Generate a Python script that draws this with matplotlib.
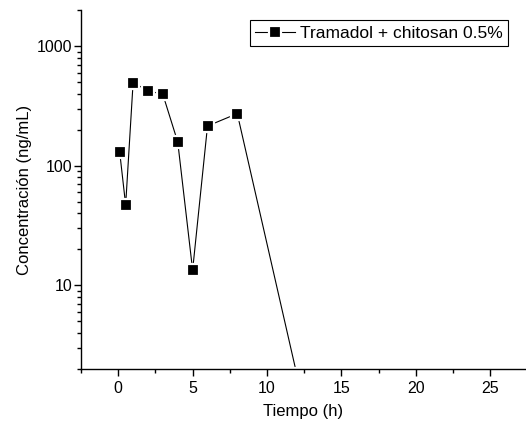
import matplotlib
matplotlib.use("Agg")
import matplotlib.pyplot as plt
from matplotlib.ticker import FixedLocator, LogLocator, NullFormatter, MultipleLocator

plt.rcParams['font.family'] = ['Liberation Sans', 'DejaVu Sans']

# tiempo (h) y concentracion (ng/mL)
tiempo = [0.1, 0.5, 1, 2, 3, 4, 5, 6, 8, 12]
conc = [130, 47, 495, 425, 395, 158, 13.4, 215, 273, 1.8]
serie = "Tramadol + chitosan 0.5%"

fig = plt.figure(figsize=(5.26, 4.25), dpi=100)
ax = fig.add_axes([0.154, 0.132, 0.846, 0.844])

ax.plot(tiempo, conc, color='black', lw=0.8, marker='s', ms=8,
        mfc='black', mec='white', mew=1.6, label=serie)

ax.set_yscale('log')
ax.set_ylim(2, 2000)
ax.set_xlim(-2.5, 27.4)

ax.xaxis.set_major_locator(MultipleLocator(5))
ax.xaxis.set_minor_locator(MultipleLocator(2.5))
ax.yaxis.set_major_locator(FixedLocator([10, 100, 1000]))
ax.yaxis.set_minor_locator(LogLocator(base=10, subs=range(2, 10)))
ax.yaxis.set_minor_formatter(NullFormatter())
ax.set_yticklabels(['10', '100', '1000'])

for s in ['top', 'right']:
    ax.spines[s].set_visible(False)
for s in ['left', 'bottom']:
    ax.spines[s].set_linewidth(1.0)

ax.tick_params(which='major', direction='out', length=5, width=1, labelsize=11.5)
ax.tick_params(which='minor', direction='out', length=3, width=1)
ax.tick_params(axis='y', which='major', pad=1)

ax.set_xlabel("Tiempo (h)", fontsize=12, labelpad=6)
ax.set_ylabel("Concentración (ng/mL)", fontsize=12, labelpad=4)

leg = ax.legend(loc='upper right', fontsize=12.5, frameon=True, fancybox=False,
                edgecolor='black', framealpha=1, handlelength=2.3,
                handletextpad=0.3, borderpad=0.3, borderaxespad=0,
                bbox_to_anchor=(0.96, 0.972))
leg.get_frame().set_linewidth(0.8)

fig.savefig("out.png", dpi=100)
